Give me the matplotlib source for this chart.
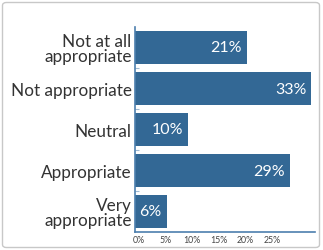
import matplotlib
matplotlib.use("Agg")
import matplotlib.pyplot as plt
from matplotlib.patches import FancyBboxPatch
import matplotlib.transforms as mtransforms

categories = ["Not at all\nappropriate", "Not appropriate", "Neutral", "Appropriate", "Very\nappropriate"]
values = [21, 33, 10, 29, 6]
value_labels = ["21%", "33%", "10%", "29%", "6%"]
xticks = [0, 5, 10, 15, 20, 25]
xtick_labels = ["0%", "5%", "10%", "15%", "20%", "25%"]

plt.rcParams['font.family'] = ['Lato', 'DejaVu Sans']

W, H = 323, 251
fig = plt.figure(figsize=(W / 100, H / 100), dpi=100)
fig.patch.set_facecolor("white")

border = FancyBboxPatch((2.5 / W, 2.5 / H), (W - 6) / W, (H - 6) / H,
                        boxstyle="round,pad=0,rounding_size=0.012",
                        transform=fig.transFigure, facecolor="none",
                        edgecolor="#c8c8c8", linewidth=1.0)
fig.patches.append(border)

left, right = 134.5 / W, 315 / W
bottom, top = 1 - 233 / H, 1 - 28 / H
ax = fig.add_axes([left, bottom, right - left, top - bottom])

bar_color = "#336895"
ypos = list(range(len(categories)))
ax.barh(ypos, values, height=0.82, color=bar_color)
ax.set_ylim(len(categories) - 0.5, -0.5)
ax.set_xlim(0, 33.7)

for y, v, lab in zip(ypos, values, value_labels):
    ax.text(v - 0.9, y, lab, ha="right", va="center", color="white", fontsize=11.5)

ax.set_yticks(ypos)
ax.set_yticklabels(categories, fontsize=12.3, color="#333333", linespacing=0.92)
ax.tick_params(axis="y", length=0, pad=2)
ax.set_yticks([i + 0.5 for i in range(len(categories) - 1)], minor=True)
ax.tick_params(axis="y", which="minor", length=3, direction="in", color="#9db8d2", width=0.8)

ax.set_xticks(xticks)
ax.set_xticklabels(xtick_labels, fontsize=6.3, color="#444444")
ax.tick_params(axis="x", length=0, pad=2)
offset = mtransforms.ScaledTranslation(4 / 100, 0, fig.dpi_scale_trans)
for lbl in ax.get_xticklabels():
    lbl.set_transform(lbl.get_transform() + offset)

for s in ["top", "right"]:
    ax.spines[s].set_visible(False)
for s in ["left", "bottom"]:
    ax.spines[s].set_color("#4d7fae")
    ax.spines[s].set_linewidth(1.2)
ax.set_facecolor("white")

fig.savefig("out.png", dpi=100, facecolor="white")
